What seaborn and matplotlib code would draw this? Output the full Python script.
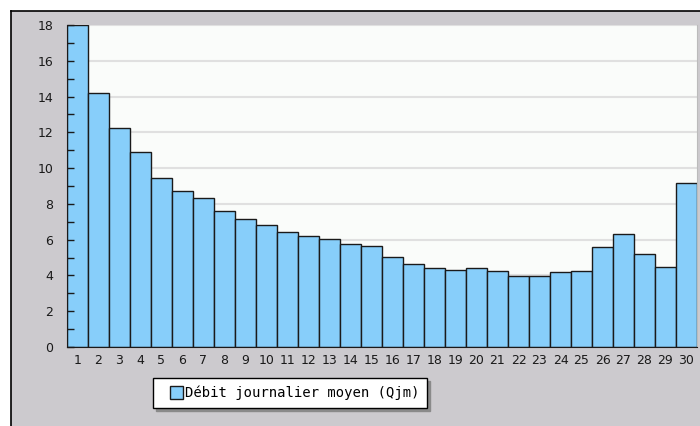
import matplotlib
matplotlib.use("Agg")
import matplotlib.pyplot as plt
import seaborn as sns
from matplotlib.patches import Rectangle
from matplotlib.container import BarContainer
from matplotlib.legend_handler import HandlerPatch

days = [str(d) for d in range(1, 31)]
debit = [18.0, 14.18, 12.26, 10.9, 9.43, 8.72, 8.33, 7.62, 7.14, 6.84,
         6.43, 6.2, 6.04, 5.74, 5.65, 5.03, 4.64, 4.4, 4.32, 4.4,
         4.25, 3.99, 3.99, 4.17, 4.25, 5.57, 6.3, 5.2, 4.47, 9.17]
yticks = list(range(0, 19, 2))
legend_label = "Débit journalier moyen (Qjm)"

W, H = 700, 426
fig = plt.figure(figsize=(W / 100, H / 100), dpi=100)
fig.patch.set_facecolor("white")

# gray panel behind the chart, black border top and left
panel = Rectangle((11 / W, 0), 1 - 11 / W, (H - 11) / H, transform=fig.transFigure,
                  facecolor="#cccace", edgecolor="none", zorder=-5)
fig.add_artist(panel)
fig.add_artist(plt.Line2D([11 / W, 1], [(H - 11) / H] * 2, color="black", lw=1.2,
                          transform=fig.transFigure, zorder=-4))
fig.add_artist(plt.Line2D([11 / W] * 2, [0, (H - 11) / H], color="black", lw=1.2,
                          transform=fig.transFigure, zorder=-4))

ax = fig.add_axes([67 / W, (H - 347) / H, 630 / W, 322 / H])
ax.set_zorder(5)
ax.set_facecolor("#fafcfa")

# grid lines under the bars, tick marks above them
for y in yticks[1:]:
    ax.axhline(y, color="#e0e0e0", lw=1.5, zorder=0.5)

sns.barplot(x=days, y=debit, color="#87cefa", width=1, edgecolor="#1a1a1a",
            linewidth=1, saturation=1, label=legend_label, ax=ax, zorder=1)

ax.set_xlim(-0.5, 29.5)
ax.set_ylim(0, 18)
ax.set_yticks(yticks)
ax.set_yticks(range(0, 19), minor=True)
ax.grid(False)
ax.tick_params(axis="y", which="both", direction="in", length=5, width=1,
               labelsize=9, pad=10, colors="#1a1a1a")
ax.tick_params(axis="x", length=0, labelsize=9, pad=5, colors="#1a1a1a")
ax.set_xlabel("")
ax.set_ylabel("")
ax.spines["top"].set_visible(False)
ax.spines["right"].set_color("#bbbbbb")
ax.spines["left"].set_color("#1a1a1a")
ax.spines["bottom"].set_color("#1a1a1a")


def square_right(legend, orig_handle, xdescent, ydescent, width, height, fontsize):
    # square swatch pushed to the right end of the handle box
    return Rectangle((-xdescent + width - height, -ydescent), height, height)


def first_bar(legend_handle, orig_handle):
    legend_handle.update_from(orig_handle[0])


square = HandlerPatch(patch_func=square_right, update_func=first_bar)
leg = ax.legend(loc="upper left", bbox_to_anchor=(153 / W, (H - 378) / H),
                bbox_transform=fig.transFigure, frameon=True, fancybox=False,
                shadow={"color": "#8a8a8a", "alpha": 1}, edgecolor="black",
                facecolor="white", framealpha=1, borderpad=0.55, borderaxespad=0,
                handlelength=1.6, handleheight=1.0, handletextpad=0.15,
                handler_map={BarContainer: square},
                prop={"family": "DejaVu Sans Mono", "size": 10})
leg.get_frame().set_linewidth(1)

fig.savefig("out.png", dpi=100)
